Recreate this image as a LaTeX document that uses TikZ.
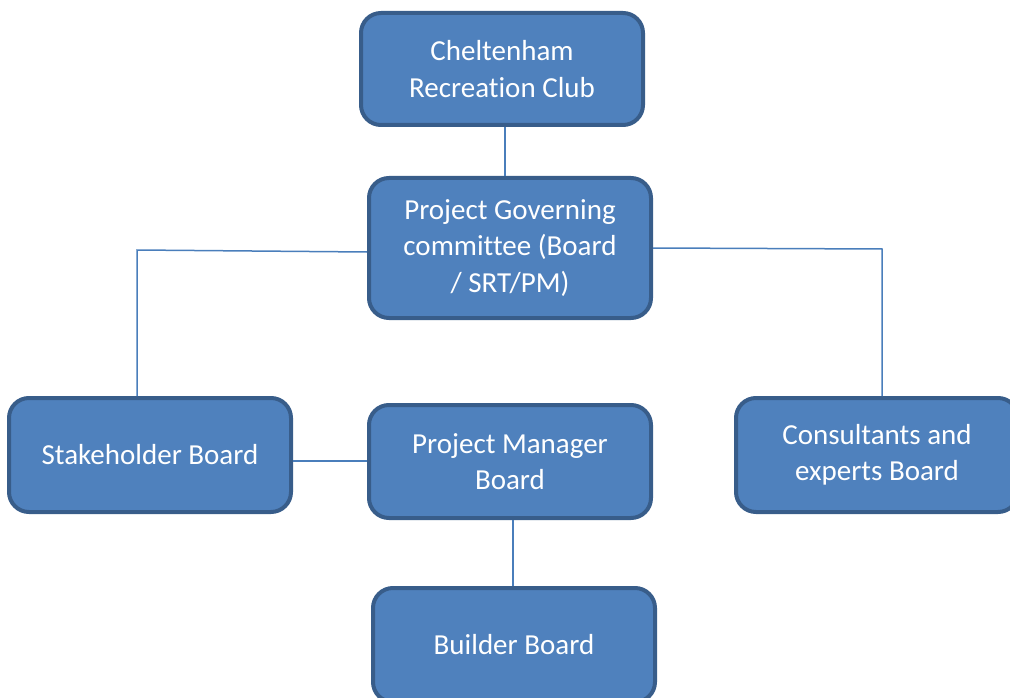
\documentclass[tikz,border=0pt]{standalone}
\usepackage{fontspec}
\setmainfont[RawFeature=-liga]{Carlito}
\definecolor{boxfill}{HTML}{4F81BD}
\definecolor{boxline}{HTML}{385D8A}
\definecolor{linkline}{HTML}{4A7EBB}
\begin{document}
\begin{tikzpicture}[x=1pt,y=-1pt,
  orgbox/.style={draw=boxline, line width=4pt, fill=boxfill, rounded corners=20pt,
    minimum width=282pt, text=white, align=center,
    font=\fontsize{29}{36.5}\selectfont, inner sep=0pt},
  link/.style={draw=linkline, line width=1.5pt}]
\useasboundingbox (0,0) rectangle (1010,698);
\node[orgbox, minimum height=112pt] (club) at (502,69) {Cheltenham\\Recreation Club};
\node[orgbox, minimum height=140pt] (pg) at (510,248) {Project Governing\\committee (Board\\/ SRT/PM)};
\node[orgbox, minimum height=114pt] (stake) at (150,455) {Stakeholder Board};
\node[orgbox, minimum height=113pt] (pm) at (510,461.5) {Project Manager\\Board};
\node[orgbox, minimum height=114pt] (cons) at (877,455) {Consultants and\\experts Board};
\node[orgbox, minimum height=114pt] (build) at (514,645) {Builder Board};
% connectors
\draw[link] (club.south -| 505,0) -- (pg.north -| 505,0);
\coordinate (lc) at (137,250);
\coordinate (rc) at (882,249);
\draw[link] (pg.west |- 0,252) -- (lc) -- (stake.north -| lc);
\draw[link] (pg.east |- 0,248) -- (rc) -- (cons.north -| rc);
\draw[link] (stake.east |- 0,461) -- (pm.west |- 0,461);
\draw[link] (pm.south -| 513,0) -- (build.north -| 513,0);
\end{tikzpicture}
\end{document}
